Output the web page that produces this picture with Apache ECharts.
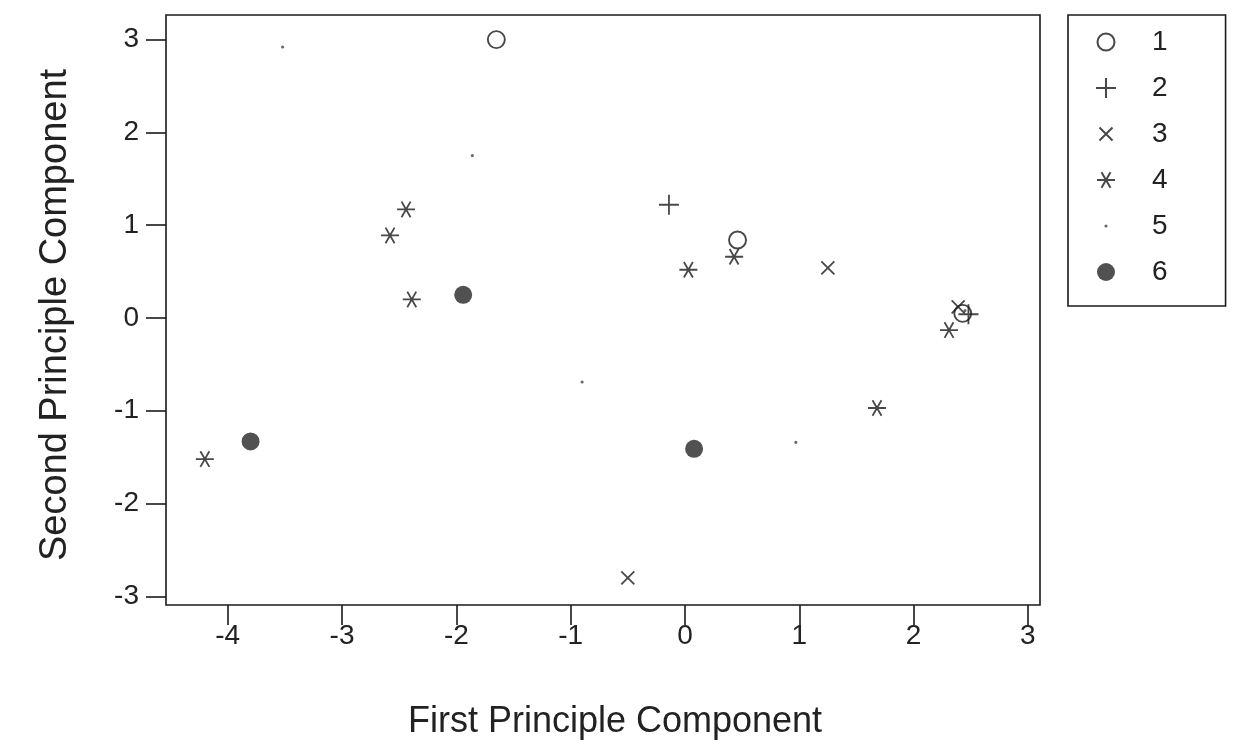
<!DOCTYPE html>
<html>
<head>
<meta charset="utf-8">
<title>Principal components scatter</title>
<script src="https://cdn.jsdelivr.net/npm/echarts@6/dist/echarts.min.js"></script>
<style>
  html, body { margin: 0; padding: 0; background: #fff; }
  #chart { width: 1238px; height: 753px; }
</style>
</head>
<body>
<div id="chart"></div>
<script>
// 各组的数据点 [第一主成分, 第二主成分]
const group1 = [[-1.65, 3.00], [0.46, 0.84], [2.43, 0.05]]
const group2 = [[-0.14, 1.22], [2.48, 0.04]]
const group3 = [[1.25, 0.54], [-0.50, -2.80], [2.39, 0.12]]
const group4 = [[-2.44, 1.17], [-2.58, 0.89], [-2.39, 0.20], [-4.20, -1.52],
  [0.03, 0.52], [0.43, 0.66], [2.31, -0.13], [1.68, -0.97]]
const group5 = [[-3.52, 2.92], [-1.86, 1.75], [-0.90, -0.69], [0.97, -1.34], [2.45, 0.08]]
const group6 = [[-1.94, 0.25], [-3.80, -1.33], [0.08, -1.41]]

const groupNames = ['1', '2', '3', '4', '5', '6']
const xTicks = [-4, -3, -2, -1, 0, 1, 2, 3]
const yTicks = [-3, -2, -1, 0, 1, 2, 3]

const ink = '#1a1a1a'
const font = "'Liberation Sans', Arial, sans-serif"

// 所有符号都放在 20x20 的框里（M0,0 M20,20 只是定位点）
const frame = 'path://M0,0 M20,20 '
const symbols = [
  frame + 'M10,1.5 A8.5,8.5 0 1 1 9.99,1.5 Z',
  frame + 'M0,10 L20,10 M10,0 L10,20',
  frame + 'M3.5,3.5 L16.5,16.5 M16.5,3.5 L3.5,16.5',
  frame + 'M1,10 L19,10 M5.5,2.2 L14.5,17.8 M14.5,2.2 L5.5,17.8',
  frame + 'M10,8.4 A1.6,1.6 0 1 1 9.99,8.4 Z',
  frame + 'M10,1 A9,9 0 1 1 9.99,1 Z'
]
const styles = [
  { color: '#fff', borderColor: ink, borderWidth: 1.9 },
  { color: ink, borderColor: ink, borderWidth: 1.8 },
  { color: ink, borderColor: ink, borderWidth: 1.8 },
  { color: ink, borderColor: ink, borderWidth: 1.8 },
  { color: '#444', borderWidth: 0 },
  { color: '#262626', borderWidth: 0 }
]
const groups = [group1, group2, group3, group4, group5, group6]

const chart = echarts.init(document.getElementById('chart'))

const option = {
  animation: false,
  backgroundColor: '#fff',
  grid: {
    left: 166, right: 198, top: 15, bottom: 148,
    show: true, borderColor: ink, borderWidth: 1.6
  },
  xAxis: {
    type: 'value',
    min: -4.54, max: 3.106,
    name: 'First Principle Component',
    nameLocation: 'middle',
    nameGap: 99,
    nameTextStyle: { fontFamily: font, fontSize: 36, color: '#222', padding: [0, 0, 0, 24] },
    axisLine: { show: false, onZero: false },
    splitLine: { show: false },
    axisTick: { show: true, length: 20, customValues: xTicks, lineStyle: { color: ink, width: 1.6 } },
    axisLabel: { customValues: xTicks, margin: 17, fontFamily: font, fontSize: 28, color: '#222' }
  },
  yAxis: {
    type: 'value',
    min: -3.093, max: 3.265,
    name: 'Second Principle Component',
    nameLocation: 'middle',
    nameGap: 91,
    nameTextStyle: { fontFamily: font, fontSize: 38, color: '#222', padding: [0, 10, 0, 0] },
    axisLine: { show: false, onZero: false },
    splitLine: { show: false },
    axisTick: { show: true, length: 20, customValues: yTicks, lineStyle: { color: ink, width: 1.6 } },
    axisLabel: { customValues: yTicks, margin: 27, fontFamily: font, fontSize: 28, color: '#222' }
  },
  legend: {
    orient: 'vertical',
    left: 1068, top: 15,
    padding: [13, 58, 20, 27],
    itemWidth: 20, itemHeight: 20,
    itemGap: 18,
    borderColor: ink, borderWidth: 1.6,
    textStyle: { fontFamily: font, fontSize: 28, color: '#222', lineHeight: 28, padding: [0, 0, 0, 31] },
    data: groupNames
  },
  series: groups.map((data, i) => ({
    name: groupNames[i],
    type: 'scatter',
    symbol: symbols[i],
    symbolSize: 20,
    symbolKeepAspect: true,
    itemStyle: styles[i],
    data: data
  }))
}

chart.setOption(option)
</script>
</body>
</html>
